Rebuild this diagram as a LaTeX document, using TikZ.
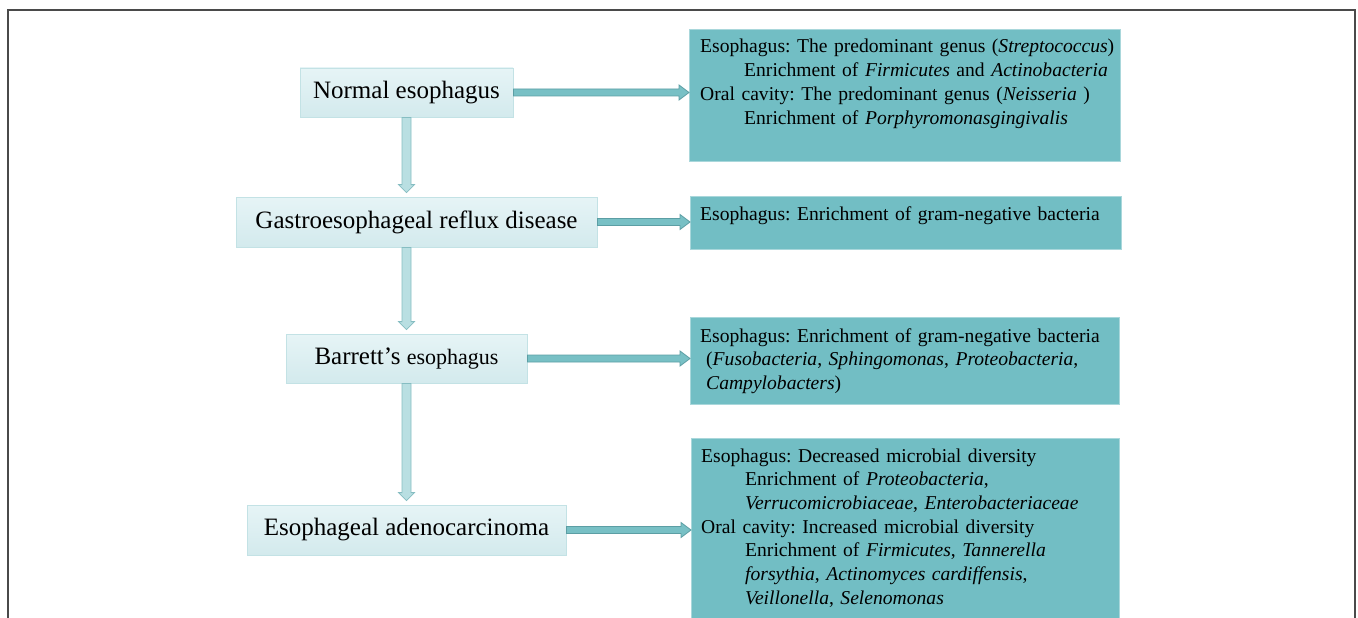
\documentclass[tikz,border=0pt]{standalone}
\usepackage{fontspec}
\setmainfont{Liberation Serif}
\usetikzlibrary{calc}
\definecolor{stagetop}{HTML}{E6F4F6}
\definecolor{stagebottom}{HTML}{D3EAED}
\definecolor{stageline}{HTML}{C3E2E5}
\definecolor{infofill}{HTML}{72BEC4}
\definecolor{infoline}{HTML}{A9D7DB}
\definecolor{harrowfill}{HTML}{78C0C5}
\definecolor{harrowline}{HTML}{5C9EA4}
\definecolor{varrowfill}{HTML}{B9DFE2}
\definecolor{varrowline}{HTML}{86BDC2}
\definecolor{frameline}{HTML}{4A4A4A}
\tikzstyle{stage}=[draw=stageline, top color=stagetop, bottom color=stagebottom, line width=0.8pt, inner sep=0pt, font=\fontsize{25}{30}\selectfont]
\tikzstyle{infobox}=[draw=infoline, fill=infofill, line width=0.8pt, inner sep=0pt, anchor=north west]
\tikzstyle{infotext}=[anchor=base west, inner sep=0pt, text width=470pt, align=left, font=\fontsize{19.6}{23.7}\selectfont\frenchspacing]
\tikzstyle{harrow}=[draw=harrowline, fill=harrowfill, line width=0.8pt]
\tikzstyle{varrow}=[draw=varrowline, fill=varrowfill, line width=0.8pt]
\newcommand{\ind}{\hspace*{44pt}}
% block arrow from the east side of #1 to the west side of #2
\newcommand{\harrowpath}[2]{%
  \path[harrow] let \p1=(#1.east), \p2=(#2.west) in
    (\x1,\y1+3.5pt) -- (\x2-10pt,\y1+3.5pt) -- (\x2-10pt,\y1+7.5pt) -- (\x2,\y1)
    -- (\x2-10pt,\y1-7.5pt) -- (\x2-10pt,\y1-3.5pt) -- (\x1,\y1-3.5pt) -- cycle;}
% block arrow from #1 down to #2, on the axis of #3
\newcommand{\varrowpath}[3]{%
  \path[varrow] let \p1=(#1.south), \p2=(#2.north), \p3=(#3.south) in
    (\x3-4.5pt,\y1) -- (\x3-4.5pt,\y2+12pt) -- (\x3-8pt,\y2+12pt) -- (\x3,\y2+4pt)
    -- (\x3+8pt,\y2+12pt) -- (\x3+4.5pt,\y2+12pt) -- (\x3+4.5pt,\y1) -- cycle;}

\begin{document}
\begin{tikzpicture}[x=1pt, y=-1pt]
        \useasboundingbox (0, 0) rectangle (1358, 618);
        \clip (0, 0) rectangle (1358, 618);
        \draw[frameline, line width=1.5pt] (8, 10) rectangle (1355, 700);
        % stages
        \node[stage, minimum width=213pt, minimum height=49pt] (Normal) at (406.5, 92.5) {Normal esophagus};
        \node[stage, minimum width=361pt, minimum height=50pt] (Gerd) at (416.5, 222) {Gastroesophageal reflux disease};
        \node[stage, minimum width=241pt, minimum height=49pt] (Barrett) at (406.5, 358.5) {Barrett’s {\fontsize{22}{26}\selectfont esophagus}};
        \node[stage, minimum width=319pt, minimum height=50pt] (Eac) at (406.5, 530) {Esophageal adenocarcinoma};
        % microbiota boxes
        \node[infobox, minimum width=431pt, minimum height=132pt] (NormalInfo) at (689, 29) {};
        \node[infobox, minimum width=431pt, minimum height=53pt] (GerdInfo) at (690, 196) {};
        \node[infobox, minimum width=429pt, minimum height=87pt] (BarrettInfo) at (690, 317) {};
        \node[infobox, minimum width=428pt, minimum height=210pt] (EacInfo) at (691, 438) {};
        \node[infotext] (NormalText) at ([shift={(11, 24)}]NormalInfo.north west) {Esophagus: The predominant genus (\textit{Streptococcus})\\
            \ind Enrichment of \textit{Firmicutes} and \textit{Actinobacteria}\\
            Oral cavity: The predominant genus (\textit{Neisseria} )\\
            \ind Enrichment of \textit{Porphyromonasgingivalis}};
        \node[infotext] (GerdText) at ([shift={(10, 24)}]GerdInfo.north west) {Esophagus: Enrichment of gram-negative bacteria};
        \node[infotext] (BarrettText) at ([shift={(10, 25)}]BarrettInfo.north west) {Esophagus: Enrichment of gram-negative bacteria\\
            \hspace*{6pt}(\textit{Fusobacteria}, \textit{Sphingomonas}, \textit{Proteobacteria},\\
            \hspace*{6pt}\textit{Campylobacters})};
        \node[infotext] (EacText) at ([shift={(10, 24)}]EacInfo.north west) {Esophagus: Decreased microbial diversity\\
            \ind Enrichment of \textit{Proteobacteria},\\
            \ind \textit{Verrucomicrobiaceae}, \textit{Enterobacteriaceae}\\
            Oral cavity: Increased microbial diversity\\
            \ind Enrichment of \textit{Firmicutes}, \textit{Tannerella}\\
            \ind \textit{forsythia}, \textit{Actinomyces cardiffensis},\\
            \ind \textit{Veillonella}, \textit{Selenomonas}};
        % arrows
        \varrowpath{Normal}{Gerd}{Normal}
        \varrowpath{Gerd}{Barrett}{Normal}
        \varrowpath{Barrett}{Eac}{Normal}
        \harrowpath{Normal}{NormalInfo}
        \harrowpath{Gerd}{GerdInfo}
        \harrowpath{Barrett}{BarrettInfo}
        \harrowpath{Eac}{EacInfo}
    \end{tikzpicture}
\end{document}
